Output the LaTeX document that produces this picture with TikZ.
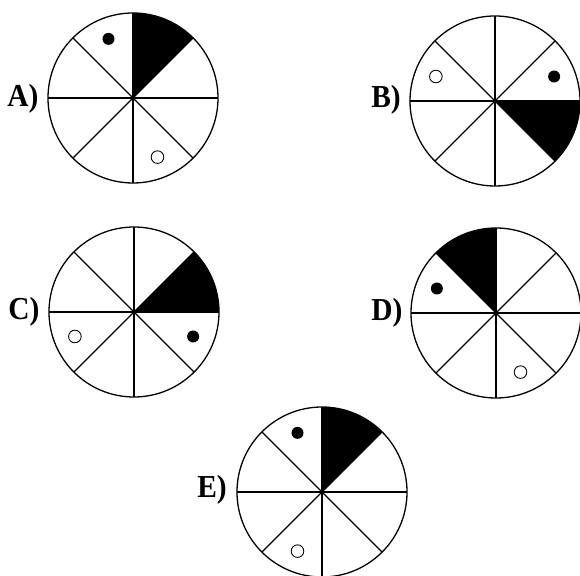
\documentclass[tikz,border=0pt]{standalone}
\usepackage{fontspec}
\setmainfont{Liberation Serif}
\usetikzlibrary{calc}
\newcommand\wheel[7]{%
  % #1 name, #2 x, #3 y, #4 filled sector start angle, #5 dot angle, #6 open dot angle, #7 label position
  \coordinate (#1) at (#2,#3);
  \fill[blk] (#1) -- ++(#4:85) arc[start angle=#4, end angle=#4+45, radius=85] -- cycle;
  \foreach \a in {0,45,...,315} \draw[spoke] (#1) -- ++(\a:85);
  \draw[rim] (#1) circle[radius=85];
  \fill[fulldot] ($(#1)+(#5:64)$) circle[radius=6];
  \draw[opendot] ($(#1)+(#6:64)$) circle[radius=6.3];
  \node[lbl] (#1lbl) at #7 {#1)};
}
\begin{document}
\begin{tikzpicture}[x=1pt,y=1pt,
  rim/.style={line width=1.3pt},
  spoke/.style={line width=1.2pt},
  blk/.style={fill=black},
  fulldot/.style={fill=black},
  opendot/.style={draw=black,line width=0.9pt,fill=white},
  lbl/.style={font=\fontsize{32}{32}\selectfont\bfseries, inner sep=0pt, xscale=0.92}]
\useasboundingbox (0,0) rectangle (580,575);
\wheel{A}{133}{477}{45}{112.5}{-67.5}{(23,476)}
\wheel{B}{495}{474}{-45}{22.5}{157.5}{(386,475)}
\wheel{C}{134}{263}{0}{-22.5}{202.5}{(24,263)}
\wheel{D}{496}{262}{90}{157.5}{-67.5}{(387,262)}
\wheel{E}{322}{83}{45}{112.5}{247.5}{(212,85)}
\end{tikzpicture}
\end{document}
